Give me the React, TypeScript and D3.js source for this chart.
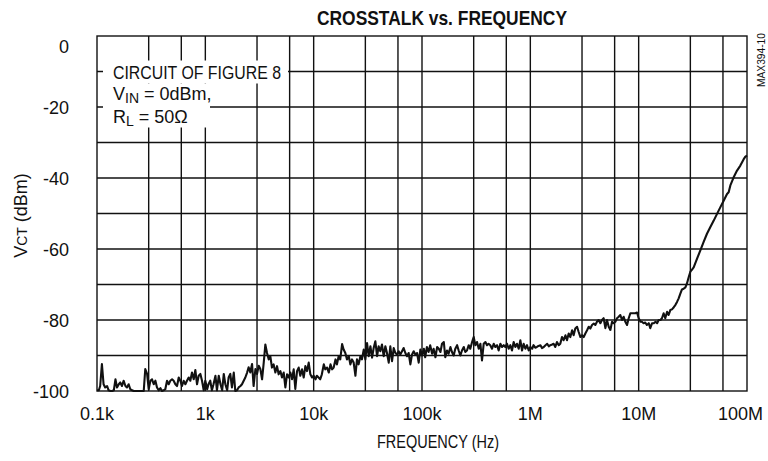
import React from "react";
import * as d3 from "d3";

const TITLE = "CROSSTALK vs. FREQUENCY";
const X_LABEL = "FREQUENCY (Hz)";
const FIG_ID = "MAX394-10";

// Measured crosstalk trace (frequency in Hz, level in dBm)
const freqHz: number[] = [
  // 100 Hz - 1 kHz
  1e2, 1.04e2, 1.07e2, 1.11e2, 1.15e2, 1.19e2, 1.24e2, 1.28e2, 1.33e2, 1.38e2,
  1.43e2, 1.48e2, 1.53e2, 1.59e2, 1.64e2, 1.7e2, 1.76e2, 1.83e2, 1.89e2, 1.96e2,
  2.03e2, 2.11e2, 2.18e2, 2.26e2, 2.34e2, 2.43e2, 2.51e2, 2.6e2, 2.7e2, 2.79e2,
  2.9e2, 3e2, 3.11e2, 3.22e2, 3.34e2, 3.46e2, 3.58e2, 3.71e2, 3.85e2, 3.98e2,
  4.12e2, 4.27e2, 4.43e2, 4.59e2, 4.75e2, 4.93e2, 5.1e2, 5.29e2, 5.48e2, 5.68e2,
  5.88e2, 6.09e2, 6.31e2, 6.54e2, 6.77e2, 7.02e2, 7.27e2, 7.53e2, 7.81e2, 8.09e2,
  8.38e2, 8.68e2, 9e2, 9.32e2, 9.66e2,
  // 1 kHz - 10 kHz
  1e3, 1.04e3, 1.07e3, 1.11e3, 1.15e3, 1.19e3, 1.24e3, 1.28e3, 1.33e3, 1.38e3,
  1.43e3, 1.48e3, 1.53e3, 1.59e3, 1.64e3, 1.7e3, 1.76e3, 1.83e3, 1.89e3, 1.96e3,
  2.03e3, 2.11e3, 2.18e3, 2.26e3, 2.34e3, 2.43e3, 2.51e3, 2.6e3, 2.7e3, 2.79e3,
  2.9e3, 3e3, 3.11e3, 3.22e3, 3.34e3, 3.46e3, 3.58e3, 3.71e3, 3.85e3, 3.98e3,
  4.12e3, 4.27e3, 4.43e3, 4.59e3, 4.75e3, 4.93e3, 5.1e3, 5.29e3, 5.48e3, 5.68e3,
  5.88e3, 6.09e3, 6.31e3, 6.54e3, 6.77e3, 7.02e3, 7.27e3, 7.53e3, 7.81e3, 8.09e3,
  8.38e3, 8.68e3, 9e3, 9.32e3, 9.66e3,
  // 10 kHz - 100 kHz
  1e4, 1.04e4, 1.07e4, 1.11e4, 1.15e4, 1.19e4, 1.24e4, 1.28e4, 1.33e4, 1.38e4,
  1.43e4, 1.48e4, 1.53e4, 1.59e4, 1.64e4, 1.7e4, 1.76e4, 1.83e4, 1.89e4, 1.96e4,
  2.03e4, 2.11e4, 2.18e4, 2.26e4, 2.34e4, 2.43e4, 2.51e4, 2.6e4, 2.7e4, 2.79e4,
  2.9e4, 3e4, 3.11e4, 3.22e4, 3.34e4, 3.46e4, 3.58e4, 3.71e4, 3.85e4, 3.98e4,
  4.12e4, 4.27e4, 4.43e4, 4.59e4, 4.75e4, 4.93e4, 5.1e4, 5.29e4, 5.48e4, 5.68e4,
  5.88e4, 6.09e4, 6.31e4, 6.54e4, 6.77e4, 7.02e4, 7.27e4, 7.53e4, 7.81e4, 8.09e4,
  8.38e4, 8.68e4, 9e4, 9.32e4, 9.66e4,
  // 100 kHz - 1 MHz
  1e5, 1.04e5, 1.07e5, 1.11e5, 1.15e5, 1.19e5, 1.24e5, 1.28e5, 1.33e5, 1.38e5,
  1.43e5, 1.48e5, 1.53e5, 1.59e5, 1.64e5, 1.7e5, 1.76e5, 1.83e5, 1.89e5, 1.96e5,
  2.03e5, 2.11e5, 2.18e5, 2.26e5, 2.34e5, 2.43e5, 2.51e5, 2.6e5, 2.7e5, 2.79e5,
  2.9e5, 3e5, 3.11e5, 3.22e5, 3.34e5, 3.46e5, 3.58e5, 3.71e5, 3.85e5, 3.98e5,
  4.12e5, 4.27e5, 4.43e5, 4.59e5, 4.75e5, 4.93e5, 5.1e5, 5.29e5, 5.48e5, 5.68e5,
  5.88e5, 6.09e5, 6.31e5, 6.54e5, 6.77e5, 7.02e5, 7.27e5, 7.53e5, 7.81e5, 8.09e5,
  8.38e5, 8.68e5, 9e5, 9.32e5, 9.66e5,
  // 1 MHz - 10 MHz
  1e6, 1.04e6, 1.07e6, 1.11e6, 1.15e6, 1.19e6, 1.24e6, 1.28e6, 1.33e6, 1.38e6,
  1.43e6, 1.48e6, 1.53e6, 1.59e6, 1.64e6, 1.7e6, 1.76e6, 1.83e6, 1.89e6, 1.96e6,
  2.03e6, 2.11e6, 2.18e6, 2.26e6, 2.34e6, 2.43e6, 2.51e6, 2.6e6, 2.7e6, 2.79e6,
  2.9e6, 3e6, 3.11e6, 3.22e6, 3.34e6, 3.46e6, 3.58e6, 3.71e6, 3.85e6, 3.98e6,
  4.12e6, 4.27e6, 4.43e6, 4.59e6, 4.75e6, 4.93e6, 5.1e6, 5.29e6, 5.48e6, 5.68e6,
  5.88e6, 6.09e6, 6.31e6, 6.54e6, 6.77e6, 7.02e6, 7.27e6, 7.53e6, 7.81e6, 8.09e6,
  8.38e6, 8.68e6, 9e6, 9.32e6, 9.66e6,
  // 10 MHz - 100 MHz
  1e7, 1.04e7, 1.07e7, 1.11e7, 1.15e7, 1.19e7, 1.24e7, 1.28e7, 1.33e7, 1.38e7,
  1.43e7, 1.48e7, 1.53e7, 1.59e7, 1.64e7, 1.7e7, 1.76e7, 1.83e7, 1.89e7, 1.96e7,
  2.03e7, 2.11e7, 2.18e7, 2.26e7, 2.34e7, 2.43e7, 2.51e7, 2.6e7, 2.7e7, 2.79e7,
  2.9e7, 3e7, 3.11e7, 3.22e7,
  3.46e7, 3.71e7, 3.98e7, 4.27e7, 4.59e7, 4.93e7, 5.29e7, 5.68e7, 6.09e7, 6.54e7,
  6.77e7, 7.02e7, 7.53e7, 8.09e7, 8.68e7, 9.32e7, 9.66e7, 1e8,
];

const vctDbm: number[] = [
  // 100 Hz - 1 kHz
  -99.8, -99.8, -98.6, -92.4, -98.1, -99.0, -98.6, -99.8, -100, -100,
  -99.8, -96.7, -99.0, -98.1, -97.6, -98.6, -97.1, -98.6, -99.0, -98.1,
  -99.5, -99.8, -100, -100, -100, -100, -100, -100, -100, -93.8,
  -95.2, -99.5, -97.1, -96.7, -98.1, -97.1, -99.0, -99.8, -99.2, -100,
  -99.8, -99.5, -97.1, -98.1, -97.1, -96.7, -97.1, -98.1, -98.6, -96.2,
  -97.1, -98.6, -97.1, -98.1, -97.1, -96.2, -97.1, -94.8, -96.7, -94.1,
  -98.1, -95.7, -95.2, -97.1, -99.8,
  // 1 kHz - 10 kHz
  -97.1, -99.5, -98.1, -97.1, -99.8, -98.1, -95.7, -99.8, -95.7, -98.1,
  -99.8, -95.2, -98.1, -99.8, -96.2, -95.2, -99.0, -94.8, -100, -99.8,
  -99.0, -98.6, -98.1, -97.1, -96.2, -94.8, -93.3, -94.8, -92.4, -98.6,
  -93.8, -95.2, -92.9, -93.8, -96.7, -92.0, -86.9, -89.3, -91.1, -90.2,
  -93.4, -92.5, -94.8, -93.0, -95.3, -94.4, -96.2, -94.8, -99.0, -95.3,
  -96.2, -94.8, -96.7, -93.9, -99.4, -94.4, -93.4, -95.7, -93.9, -96.2,
  -93.0, -94.4, -92.0, -95.3, -96.2,
  // 10 kHz - 100 kHz
  -95.7, -96.7, -95.7, -96.2, -96.7, -95.3, -92.5, -93.9, -93.4, -94.8,
  -92.5, -93.9, -93.4, -91.1, -92.5, -90.2, -91.1, -86.8, -88.3, -89.3,
  -91.1, -90.2, -92.5, -91.1, -92.0, -95.7, -91.1, -92.5, -90.2, -91.1,
  -88.3, -91.1, -86.5, -90.2, -87.4, -90.6, -87.9, -86.0, -90.2, -87.4,
  -88.8, -86.9, -90.2, -87.4, -89.3, -92.0, -87.4, -91.6, -87.9, -89.3,
  -89.7, -88.8, -89.7, -88.8, -87.9, -89.3, -90.2, -89.3, -92.5, -89.7,
  -88.8, -89.7, -89.3, -92.0, -88.3,
  // 100 kHz - 1 MHz
  -90.0, -88.1, -90.5, -87.6, -89.0, -87.1, -89.5, -88.1, -90.5, -87.6,
  -88.1, -89.0, -86.7, -86.2, -90.5, -88.6, -89.5, -87.6, -89.0, -90.0,
  -88.1, -87.1, -88.6, -90.0, -88.6, -87.6, -89.0, -88.6, -87.1, -88.1,
  -86.2, -84.8, -87.1, -86.2, -88.1, -86.7, -91.4, -86.7, -86.2, -87.1,
  -86.7, -87.1, -88.1, -86.7, -87.6, -87.1, -88.6, -86.7, -87.6, -87.1,
  -87.6, -86.7, -88.1, -87.1, -88.6, -86.2, -87.6, -86.7, -88.1, -85.7,
  -88.6, -86.7, -88.1, -87.1, -88.6,
  // 1 MHz - 10 MHz
  -87.6, -88.1, -87.1, -87.8, -87.6, -87.3, -87.1, -87.9, -87.6, -87.1,
  -86.7, -87.4, -87.1, -86.9, -86.7, -87.6, -86.2, -87.1, -86.7, -84.8,
  -85.7, -84.3, -85.7, -83.8, -84.8, -82.9, -84.3, -82.4, -81.9, -83.3,
  -84.8, -84.3, -84.8, -83.8, -82.9, -81.9, -82.4, -81.4, -81.0, -81.4,
  -80.5, -80.0, -80.9, -80.0, -79.5, -82.3, -80.0, -81.9, -82.8, -80.5,
  -80.9, -80.5, -79.5, -79.1, -78.6, -80.0, -79.1, -80.5, -81.4, -79.5,
  -78.1, -78.1, -78.1, -78.1, -77.9,
  // 10 MHz - 100 MHz
  -79.5, -80.5, -80.5, -80.9, -80.7, -81.4, -80.9, -82.3, -80.9, -80.9,
  -80.5, -80.9, -80.0, -80.0, -79.5, -78.1, -79.5, -77.7, -78.6, -77.2,
  -77.0, -76.4, -75.8, -74.9, -73.9, -72.5, -71.4, -71.2, -70.8, -69.7,
  -67.9, -66.4, -65.8, -65.2,
  -62.7, -60.4, -58.0, -55.7, -53.8, -52.0, -50.1, -48.2, -46.4, -44.5,
  -44.0, -42.1, -39.8, -37.9, -36.5, -34.7, -34.0, -33.7,
];

const xTickValues = [1e2, 1e3, 1e4, 1e5, 1e6, 1e7, 1e8];
const xTickLabels = ["0.1k", "1k", "10k", "100k", "1M", "10M", "100M"];
const xGridValues = [3e2, 6e2, 1e3, 3e3, 6e3, 1e4, 3e4, 6e4, 1e5, 3e5, 6e5, 1e6, 3e6, 6e6, 1e7, 3e7, 6e7];
const yGridValues = [-90, -80, -70, -60, -50, -40, -30, -20, -10];
const yTickValues = [0, -20, -40, -60, -80, -100];
const yTickLabels = ["0", "-20", "-40", "-60", "-80", "-100"];

const FONT = "'Liberation Sans Narrow', 'Arial Narrow', 'Helvetica Condensed', 'Liberation Sans', sans-serif";
const INK = "#111";

export default function App() {
  const W = 768;
  const H = 461;
  const plot = { left: 97, right: 747, top: 36, bottom: 391 };

  const x = d3.scaleLog().domain([1e2, 1e8]).range([plot.left, plot.right]);
  const y = d3.scaleLinear().domain([-100, 0]).range([plot.bottom, plot.top]);

  const n = Math.min(freqHz.length, vctDbm.length);
  const pts: [number, number][] = d3.range(n).map((i) => [freqHz[i], vctDbm[i]]);
  const path = d3
    .line<[number, number]>()
    .x((d) => x(d[0]))
    .y((d) => y(d[1]))(pts) || "";

  const gridW = 1.4;
  const lastTick = xTickValues.length - 1;

  return (
    <svg
      width={W}
      height={H}
      viewBox={`0 0 ${W} ${H}`}
      style={{ position: "absolute", left: 0, top: 0, background: "#fff" }}
      fontFamily={FONT}
    >
      <rect x={0} y={0} width={W} height={H} fill="#fff" />

      {/* title */}
      <text
        x={442}
        y={25}
        textAnchor="middle"
        fontWeight="bold"
        fontSize={21}
        textLength={250}
        lengthAdjust="spacingAndGlyphs"
        fill={INK}
      >
        {TITLE}
      </text>

      {/* grid */}
      {yGridValues.map((v) => (
        <line key={"hy" + v} x1={plot.left} x2={plot.right} y1={y(v)} y2={y(v)} stroke={INK} strokeWidth={gridW} />
      ))}
      {xGridValues.map((v) => (
        <line key={"vx" + v} x1={x(v)} x2={x(v)} y1={plot.top} y2={plot.bottom} stroke={INK} strokeWidth={gridW} />
      ))}

      {/* annotation block */}
      <rect x={x(1e2) + 6} y={y(-10) - 11} width={185} height={23} fill="#fff" />
      <rect x={x(1e2) + 6} y={y(-10) + 12} width={107} height={44} fill="#fff" />
      <g fontSize={18} fill={INK}>
        <text x={113} y={y(-10) + 7.2} textLength={168} lengthAdjust="spacingAndGlyphs">
          CIRCUIT OF FIGURE 8
        </text>
        <text x={113} y={y(-10) + 28.5}>
          V<tspan fontSize={14} dy={3}>IN</tspan>
          <tspan dy={-3}> = 0dBm,</tspan>
        </text>
        <text x={113} y={y(-10) + 51.2}>
          R<tspan fontSize={14} dy={3}>L</tspan>
          <tspan dy={-3}> = 50Ω</tspan>
        </text>
      </g>

      {/* trace */}
      <path d={path} fill="none" stroke={INK} strokeWidth={2.1} strokeLinejoin="round" />

      {/* frame */}
      <rect
        x={plot.left}
        y={plot.top}
        width={plot.right - plot.left}
        height={plot.bottom - plot.top}
        fill="none"
        stroke={INK}
        strokeWidth={gridW}
      />

      {/* y tick labels */}
      <g fontSize={18} fill={INK} textAnchor="end">
        {yTickValues.map((v, i) => (
          <text key={"yl" + v} x={69} y={y(v) + 6.5 + (v === 0 ? 10 : 0)}>
            {yTickLabels[i]}
          </text>
        ))}
      </g>

      {/* x tick labels */}
      <g fontSize={18} fill={INK}>
        {xTickValues.map((v, i) => (
          <text
            key={"xl" + v}
            x={i === lastTick ? x(v) + 16 : x(v)}
            y={420}
            textAnchor={i === lastTick ? "end" : "middle"}
          >
            {xTickLabels[i]}
          </text>
        ))}
      </g>

      {/* axis titles */}
      <text x={438} y={448} textAnchor="middle" fontSize={18} fill={INK} textLength={122} lengthAdjust="spacingAndGlyphs">
        {X_LABEL}
      </text>
      <text transform={`translate(27, ${(plot.top + plot.bottom) / 2 + 2}) rotate(-90)`} textAnchor="middle" fontSize={18} fill={INK}>
        V<tspan fontSize={14}>CT</tspan> (dBm)
      </text>

      {/* figure id */}
      <text
        transform="translate(765, 60) rotate(-90)"
        textAnchor="middle"
        fontSize={11}
        fill={INK}
        textLength={54}
        lengthAdjust="spacingAndGlyphs"
      >
        {FIG_ID}
      </text>
    </svg>
  );
}
